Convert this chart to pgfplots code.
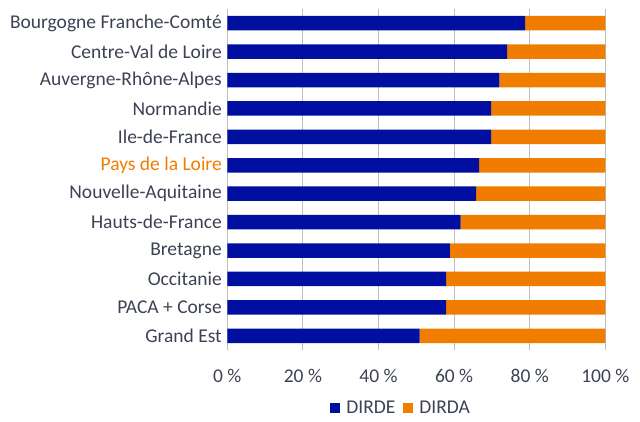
\documentclass[border=0pt]{standalone}
\usepackage{pgfplots}
\pgfplotsset{compat=1.18}
\usepackage{fontspec}
\setmainfont{Carlito}
\definecolor{dblue}{RGB}{0,15,160}
\definecolor{dorange}{RGB}{240,125,0}
\definecolor{txt}{RGB}{60,66,84}
\definecolor{grid}{RGB}{217,217,217}
\begin{document}
\begin{tikzpicture}
\path[use as bounding box] (0,0) rectangle (640pt,422pt);
\begin{axis}[
  at={(227.3pt,72pt)}, anchor=south west,
  scale only axis, width=378pt, height=341pt,
  xbar stacked, bar width=14.5pt,
  xmin=0, xmax=100, ymin=-0.5, ymax=11.5,
  xtick={0,20,40,60,80,100},
  xticklabels={0~\%,20~\%,40~\%,60~\%,80~\%,100~\%},
  ytick={0,...,11},
  yticklabels={Grand Est,PACA + Corse,Occitanie,Bretagne,Hauts-de-France,Nouvelle-Aquitaine,\textcolor{dorange}{Pays de la Loire},Ile-de-France,Normandie,Auvergne-Rhône-Alpes,Centre-Val de Loire,Bourgogne Franche-Comté},
  tick label style={font=\fontsize{19.5}{22}\selectfont, text=txt},
  xticklabel style={yshift=-16pt},
  yticklabel style={xshift=-2pt},
  axis line style={draw=none},
  major tick length=0pt,
  xmajorgrids, grid style={grid, line width=1pt},
  legend style={at={(0.46,-0.170)}, anchor=center, draw=none, legend columns=2,
    font=\fontsize{19.5}{22}\selectfont, text=txt,
    /tikz/every odd column/.append style={column sep=4pt},
    /tikz/every even column/.append style={column sep=6pt}},
  legend image code/.code={\fill[#1] (0pt,-5pt) rectangle (10pt,5pt);},
]
\addplot[fill=dblue, draw=none] coordinates {
(50.9,0) (57.9,1) (57.9,2) (58.9,3) (61.7,4) (65.8,5) (66.6,6) (69.8,7) (69.8,8) (72.0,9) (74.0,10) (78.8,11)};
\addplot[fill=dorange, draw=none] coordinates {
(49.1,0) (42.1,1) (42.1,2) (41.1,3) (38.3,4) (34.2,5) (33.4,6) (30.2,7) (30.2,8) (28.0,9) (26.0,10) (21.2,11)};
\legend{DIRDE,DIRDA}
\end{axis}
\end{tikzpicture}
\end{document}
